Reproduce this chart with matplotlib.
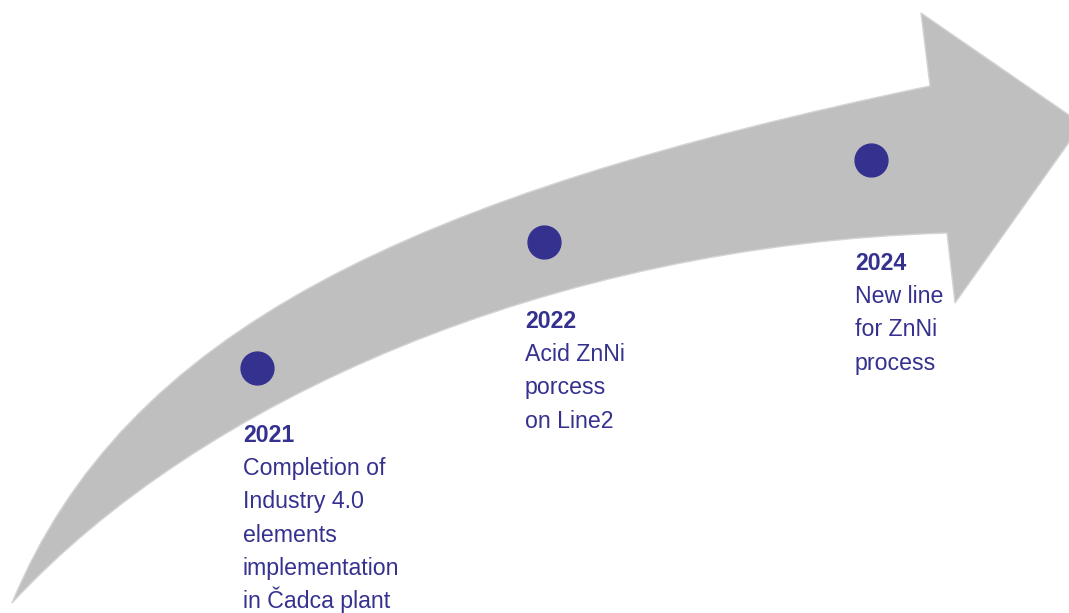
import numpy as np
import matplotlib.pyplot as plt
from matplotlib.path import Path
from matplotlib.patches import PathPatch

# timeline data
years = ['2021', '2022', '2024']
labels = [
    ['Completion of', 'Industry 4.0', 'elements', 'implementation', 'in Čadca plant'],
    ['Acid ZnNi', 'porcess', 'on Line2'],
    ['New line', 'for ZnNi', 'process'],
]

# layout (pixel coords, y down)
dot_xy = [(257, 368), (544, 242), (871, 160)]
text_xy = [(243, 442), (525, 328), (855, 270)]
line_step = 33.2

ink = '#35318f'
grey = '#bfbfbf'

fig = plt.figure(figsize=(10.69, 6.13), dpi=100)
ax = fig.add_axes([0, 0, 1, 1])
ax.set_xlim(0, 1069)
ax.set_ylim(613, 0)
ax.axis('off')

# curved arrow outline: upper edge, head, lower edge back to tail
verts = [
    (12, 603),
    (125, 330), (410, 195), (930, 86),
    (921, 13),
    (1082, 124),
    (955, 303),
    (947, 233),
    (550, 245), (200, 400), (12, 603),
]
codes = [Path.MOVETO,
         Path.CURVE4, Path.CURVE4, Path.CURVE4,
         Path.LINETO, Path.LINETO, Path.LINETO, Path.LINETO,
         Path.CURVE4, Path.CURVE4, Path.CURVE4]
ax.add_patch(PathPatch(Path(verts, codes), facecolor=grey, edgecolor='#d4d4d4', lw=1))

# dots
xs = [p[0] for p in dot_xy]
ys = [p[1] for p in dot_xy]
ax.scatter(xs, ys, s=560, color=ink, zorder=3)

# labels
for yr, lines, (tx, ty) in zip(years, labels, text_xy):
    ax.text(tx, ty, yr, fontsize=16.7, fontweight='bold', color=ink,
            family='Liberation Sans', va='baseline')
    for i, ln in enumerate(lines):
        ax.text(tx, ty + line_step * (i + 1), ln, fontsize=16.7, color=ink,
                family='Liberation Sans', va='baseline')

fig.savefig('out.png', dpi=100)
